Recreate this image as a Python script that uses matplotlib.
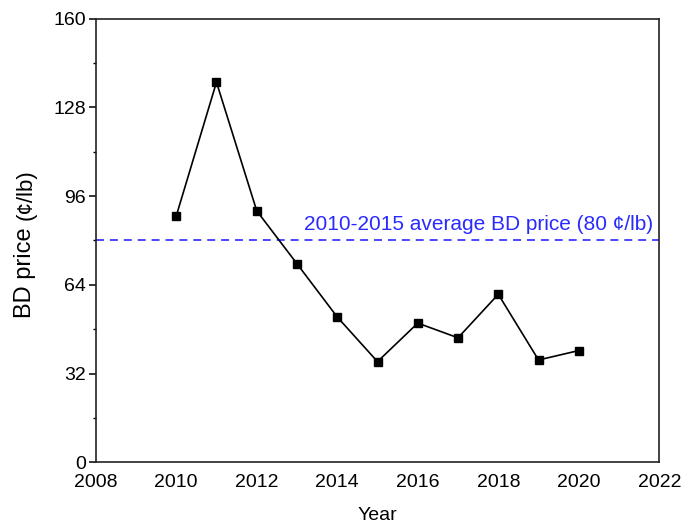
import matplotlib
matplotlib.use("Agg")
import matplotlib.pyplot as plt
from matplotlib.ticker import MultipleLocator

plt.rcParams['font.family'] = ['Liberation Sans', 'DejaVu Sans']

years = [2010, 2011, 2012, 2013, 2014, 2015, 2016, 2017, 2018, 2019, 2020]
bd_price = [88.8, 137.1, 90.7, 71.6, 52.4, 36.3, 50.2, 44.9, 60.6, 36.9, 40.3]
avg_price = 80
avg_label = "2010-2015 average BD price (80 \u00a2/lb)"
x_ticks = [2008, 2010, 2012, 2014, 2016, 2018, 2020, 2022]
y_ticks = [0, 32, 64, 96, 128, 160]

fig = plt.figure(figsize=(6.88, 5.31), dpi=100)
ax = fig.add_axes([0.1391, 0.1294, 0.8192, 0.8354])

ax.plot(years, bd_price, color='black', lw=1.2, marker='s', ms=6,
        markerfacecolor='black', markeredgecolor='black', zorder=3)
ax.axhline(avg_price, color='#3a3aff', lw=1.3, ls=(0, (4.4, 3.3)), zorder=2)
ax.text(2021.85, avg_price + 3.8, avg_label, color='#2a2aff', fontsize=15,
        ha='right', va='baseline')

ax.set_xlim(2008, 2022)
ax.set_ylim(0, 160)
ax.set_xticks(x_ticks)
ax.set_yticks(y_ticks)
ax.yaxis.set_minor_locator(MultipleLocator(16))
ax.tick_params(axis='y', which='major', direction='out', length=5, width=1.1,
               labelsize=14, pad=2)
ax.tick_params(axis='y', which='minor', direction='out', length=2.5, width=1.0)
ax.tick_params(axis='x', which='both', length=0, labelsize=14, pad=8.5)
for s in ax.spines.values():
    s.set_linewidth(1.2)
    s.set_color('#222222')

ax.set_xlabel("Year", fontsize=14, labelpad=11.5)

# y-axis label with smaller unit text
fig.canvas.draw()
renderer = fig.canvas.get_renderer()
t1 = fig.text(25 / 688, 1 - 318 / 531, "BD price ", rotation=90, fontsize=17,
              ha='center', va='bottom')
bb = t1.get_window_extent(renderer)
fig.text(26 / 688, (bb.y1 + 1) / fig.bbox.height, "(\u00a2/lb)",
         rotation=90, fontsize=16, ha='center', va='bottom')

fig.savefig("out.png", dpi=100)
